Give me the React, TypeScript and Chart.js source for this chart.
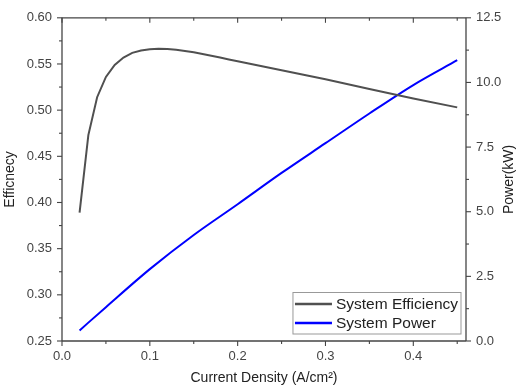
import React, { useEffect, useRef } from 'react';
import { Chart, registerables } from 'chart.js';
Chart.register(...registerables);

const effX = [0.02, 0.03, 0.04, 0.05, 0.06, 0.07, 0.08, 0.09, 0.10, 0.11, 0.12, 0.13, 0.14, 0.15, 0.16, 0.17, 0.18, 0.19, 0.20, 0.25, 0.30, 0.35, 0.40, 0.45];
const efficiency = [0.389, 0.473, 0.514, 0.536, 0.549, 0.557, 0.562, 0.5645, 0.566, 0.5665, 0.5662, 0.5653, 0.5641, 0.5626, 0.5608, 0.5589, 0.5569, 0.5549, 0.553, 0.5433, 0.5335, 0.523, 0.5127, 0.503];
const powX = [0.02, 0.05, 0.10, 0.15, 0.20, 0.25, 0.30, 0.35, 0.40, 0.45];
const power = [0.41, 1.31, 2.78, 4.1, 5.29, 6.5, 7.65, 8.8, 9.9, 10.86];

const xMinorTicks = [0.05, 0.15, 0.25, 0.35, 0.45];
const yMinorTicks = [0.275, 0.325, 0.375, 0.425, 0.475, 0.525, 0.575];
const y1MinorTicks = [1.25, 3.75, 6.25, 8.75, 11.25];

const seriesLabels = ['System Efficiency', 'System Power'];
const seriesColors = ['#505050', '#0000ff'];
const titles = { x: 'Current Density (A/cm\u00b2)', y: 'Efficnecy', y1: 'Power(kW)' };

const FONT = "'Liberation Sans', Arial, sans-serif";
const AXIS = '#444444';
const TEXT = '#444444';

const decor = {
  id: 'decor',
  afterDraw(chart: any) {
    const { ctx, chartArea: ca, scales } = chart;
    const sx = scales.x, sy = scales.y, sy1 = scales.y1;
    ctx.save();
    ctx.strokeStyle = AXIS;
    ctx.lineWidth = 1.3;
    const ln = (x1: number, y1: number, x2: number, y2: number) => {
      ctx.beginPath(); ctx.moveTo(x1, y1); ctx.lineTo(x2, y2); ctx.stroke();
    };
    ln(ca.left, ca.top, ca.right, ca.top);
    ln(ca.left, ca.bottom, ca.right, ca.bottom);
    ln(ca.left, ca.top, ca.left, ca.bottom);
    ln(ca.right, ca.top, ca.right, ca.bottom);
    ctx.lineWidth = 1.1;
    sx.ticks.forEach((t: any) => {
      const p = sx.getPixelForValue(t.value);
      ln(p, ca.bottom, p, ca.bottom + 5);
      ln(p, ca.top, p, ca.top + 5);
    });
    xMinorTicks.forEach((v) => {
      const p = sx.getPixelForValue(v);
      ln(p, ca.bottom, p, ca.bottom + 3);
      ln(p, ca.top, p, ca.top + 3);
    });
    sy.ticks.forEach((t: any) => {
      const p = sy.getPixelForValue(t.value);
      ln(ca.left - 5, p, ca.left, p);
    });
    yMinorTicks.forEach((v) => {
      const p = sy.getPixelForValue(v);
      ln(ca.left - 3, p, ca.left, p);
    });
    sy1.ticks.forEach((t: any) => {
      const p = sy1.getPixelForValue(t.value);
      ln(ca.right, p, ca.right + 5, p);
    });
    y1MinorTicks.forEach((v) => {
      const p = sy1.getPixelForValue(v);
      ln(ca.right, p, ca.right + 3, p);
    });

    // right title, reading bottom-to-top
    ctx.save();
    ctx.fillStyle = '#222222';
    ctx.font = `14px ${FONT}`;
    ctx.textAlign = 'center';
    ctx.textBaseline = 'middle';
    ctx.translate(chart.width - 8.5, (ca.top + ca.bottom) / 2);
    ctx.rotate(-Math.PI / 2);
    ctx.fillText(titles.y1, 0, 0);
    ctx.restore();

    // legend
    ctx.font = `15.5px ${FONT}`;
    const tw = Math.max(...seriesLabels.map((s) => ctx.measureText(s).width));
    const rowH = 19;
    const boxW = 2 + 37 + 4 + tw + 3;
    const boxH = 11.5 + rowH + 11;
    const bx = ca.right - 5 - boxW;
    const by = ca.bottom - 7 - boxH;
    ctx.fillStyle = '#ffffff';
    ctx.fillRect(bx, by, boxW, boxH);
    ctx.strokeStyle = '#999999';
    ctx.lineWidth = 1;
    ctx.strokeRect(bx, by, boxW, boxH);
    ctx.textAlign = 'left';
    ctx.textBaseline = 'middle';
    chart.data.datasets.forEach((ds: any, i: number) => {
      const cy = by + 11.5 + i * rowH;
      ctx.strokeStyle = ds.borderColor;
      ctx.lineWidth = 2.5;
      ln(bx + 2, cy, bx + 39, cy);
      ctx.fillStyle = '#222222';
      ctx.fillText(ds.label, bx + 43, cy + 1);
    });
    ctx.restore();
  },
};

export default function App() {
  const ref = useRef<HTMLCanvasElement>(null);
  useEffect(() => {
    document.body.style.margin = '0';
    const tickFont = { family: FONT, size: 13 };
    const chart = new Chart(ref.current as HTMLCanvasElement, {
      type: 'line',
      data: {
        datasets: [
          {
            label: seriesLabels[0],
            data: effX.map((x, i) => ({ x, y: efficiency[i] })),
            borderColor: seriesColors[0],
            borderWidth: 2,
            pointRadius: 0,
            yAxisID: 'y',
            tension: 0,
          },
          {
            label: seriesLabels[1],
            data: powX.map((x, i) => ({ x, y: power[i] })),
            borderColor: seriesColors[1],
            borderWidth: 2,
            pointRadius: 0,
            yAxisID: 'y1',
            cubicInterpolationMode: 'monotone',
          },
        ],
      },
      options: {
        responsive: false,
        animation: false,
        layout: { padding: { top: 16, left: 0, right: 0, bottom: 0 } },
        plugins: { legend: { display: false }, tooltip: { enabled: false } },
        scales: {
          x: {
            type: 'linear',
            min: 0,
            max: 0.46,
            afterFit: (s: any) => { s.height = 46; },
            grid: { display: false, drawTicks: false },
            border: { display: false },
            ticks: {
              stepSize: 0.1,
              includeBounds: false,
              padding: 8,
              color: TEXT,
              font: tickFont,
              maxRotation: 0,
              callback: (v: any) => Number(v).toFixed(1),
            },
            title: { display: true, text: titles.x, color: '#222222', font: { family: FONT, size: 14 }, padding: { top: 0, bottom: 0 } },
          },
          y: {
            type: 'linear',
            position: 'left',
            min: 0.25,
            max: 0.6,
            afterFit: (s: any) => { s.width = 62; },
            grid: { display: false, drawTicks: false },
            border: { display: false },
            ticks: {
              stepSize: 0.05,
              includeBounds: false,
              padding: 10,
              color: TEXT,
              font: tickFont,
              callback: (v: any) => Number(v).toFixed(2),
            },
            title: { display: true, text: titles.y, color: '#222222', font: { family: FONT, size: 14 }, padding: { top: 2, bottom: 0 } },
          },
          y1: {
            type: 'linear',
            position: 'right',
            min: 0,
            max: 12.5,
            afterFit: (s: any) => { s.width = 52; },
            grid: { display: false, drawTicks: false },
            border: { display: false },
            ticks: {
              stepSize: 2.5,
              includeBounds: false,
              padding: 10,
              color: TEXT,
              font: tickFont,
              callback: (v: any) => Number(v).toFixed(1),
            },
            title: { display: false },
          },
        },
      },
      plugins: [decor],
    } as any);
    return () => chart.destroy();
  }, []);
  return <canvas ref={ref} width={518} height={387} style={{ display: 'block', width: 518, height: 387 }} />;
}
